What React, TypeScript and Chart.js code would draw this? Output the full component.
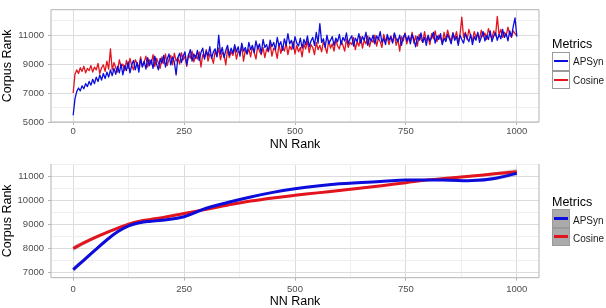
import React, { useEffect, useRef } from "react";
import { Chart, registerables } from "chart.js";

Chart.register(...registerables);

// ---------- data ----------
const seriesNames = ["APSyn", "Cosine"];
const legendTitle = "Metrics";
const xTitle = "NN Rank";
const yTitle = "Corpus Rank";

// raw series sampled every 4 NN ranks (0..1000)
const RAW_RANK_STEP = 4;
const apsynRaw = [
  5470, 6600, 7100, 7350, 7150, 7500, 7300, 7650, 7450, 7800,
  7550, 7950, 7650, 8100, 7800, 8250, 7900, 8350, 8000, 8450,
  8100, 8600, 8200, 8700, 8300, 8850, 8400, 9000, 8250, 8900,
  8550, 9150, 8400, 8950, 9250, 8600, 9100, 8450, 9350, 8800,
  9200, 8650, 9450, 8900, 9300, 8700, 9550, 9000, 8600, 9400,
  9050, 9600, 8800, 9350, 9700, 8950, 9500, 9150, 8250, 9450,
  9750, 9100, 9550, 9850, 8950, 9600, 10000, 9200, 9700, 9400,
  9950, 9250, 9800, 10100, 9350, 9900, 9550, 10200, 9400, 9850,
  10050, 9500, 11000, 9700, 10150, 9450, 9950, 10300, 9600, 10100,
  9750, 10350, 9850, 10200, 9550, 10450, 9900, 10150, 9700, 10500,
  10000, 10300, 9800, 10600, 10050, 10400, 9750, 10700, 10150, 10350,
  9900, 10650, 10200, 10500, 10000, 10850, 10250, 10550, 9950, 10750,
  10300, 11100, 10400, 10650, 10050, 10900, 10450, 10250, 10800, 10100,
  10700, 10350, 10950, 10200, 10600, 10850, 10300, 11200, 10450, 11800,
  10500, 10750, 10150, 11000, 10400, 10650, 10900, 10300, 10800, 10550,
  11050, 10350, 10850, 10600, 11150, 10400, 10750, 10950, 10250, 10800,
  10550, 11100, 10450, 10900, 10650, 11200, 10300, 10850, 10600, 11000,
  10400, 10950, 10700, 11250, 10500, 10800, 10350, 11050, 10650, 10900,
  10450, 11150, 10750, 10550, 11000, 10300, 10850, 11100, 10600, 10950,
  10400, 11050, 10700, 10200, 10900, 10650, 11150, 10500, 10850, 10300,
  11000, 10600, 10850, 11200, 10450, 10950, 10700, 11100, 10350, 10800,
  10550, 11050, 10750, 10400, 11150, 10650, 10900, 10300, 11000, 10700,
  10450, 11100, 10800, 10550, 11050, 10350, 10900, 10650, 11200, 10500,
  10850, 11250, 10600, 11000, 10700, 11300, 10550, 10950, 11150, 10650,
  11050, 10750, 11400, 10850, 11100, 10600, 11300, 10900, 11600, 12200,
  10900,
];
const cosineRaw = [
  7000, 8300, 8600, 8350, 8750, 8500, 8850, 8400, 8700, 8550,
  8900, 8450, 8800, 8600, 9050, 8350, 8750, 8950, 8500, 9200,
  8650, 10050, 8600, 9100, 8750, 8450, 9300, 8800, 9000, 8550,
  9250, 8700, 9400, 8900, 8600, 9300, 9050, 8750, 9500, 8850,
  9150, 9550, 8800, 9300, 9000, 9650, 8850, 9400, 9100, 8700,
  9500, 9050, 9700, 8900, 9350, 9600, 8950, 9750, 9200, 9450,
  9000, 9800, 9300, 9550, 8850, 9700, 9400, 9900, 9150, 9600,
  9350, 9850, 8800, 9650, 9450, 10000, 9200, 9700, 9500, 9050,
  9900, 9550, 10100, 9300, 9800, 9650, 8950, 10050, 9450, 9850,
  9600, 10150, 9350, 9900, 9750, 10250, 9200, 9950, 9700, 10050,
  9500, 10200, 9800, 9350, 10300, 9900, 9650, 10150, 9450, 10050,
  9850, 10350, 9550, 10100, 9950, 9400, 10400, 9750, 10200, 9900,
  10450, 9650, 10250, 10000, 10550, 9700, 10300, 9850, 10150, 9500,
  10400, 10050, 10600, 9800, 10350, 10150, 9650, 10500, 10000, 10300,
  9850, 10550, 10200, 9750, 10650, 10100, 10400, 9900, 10700, 10250,
  10050, 10600, 10300, 9900, 10750, 10150, 10500, 10350, 10850, 10000,
  10550, 10250, 10900, 10100, 10650, 10400, 10950, 10200, 10700, 10500,
  11000, 10250, 10800, 10550, 10150, 11050, 10600, 10850, 10350, 10950,
  10500, 11100, 10300, 10750, 9900, 10900, 10600, 11150, 10400, 10850,
  10650, 11200, 10450, 10950, 10250, 11050, 10700, 10500, 11250, 10600,
  10900, 10350, 11100, 10750, 11300, 10550, 11000, 10800, 10450, 11200,
  10650, 11350, 10900, 10600, 11150, 10750, 11250, 10500, 11050, 12250,
  10850, 11200, 10700, 11400, 10950, 10600, 11250, 10850, 11100, 10750,
  11350, 10900, 11150, 10700, 11450, 11000, 10800, 11300, 10950, 12300,
  11000, 11400, 10850, 11200, 10950, 11550, 11050, 10850, 11300, 11100,
  11000,
];

// smoothed (loess) curves with their standard-error half widths
const smoothRanks = [0, 25, 50, 75, 100, 125, 150, 175, 200, 250, 300, 350, 400, 450, 500, 550, 600, 650, 700, 750, 800, 850, 900, 950, 1000];
const apsynSmooth = [7110, 7520, 7930, 8330, 8680, 8930, 9060, 9120, 9160, 9310, 9660, 9910, 10130, 10320, 10470, 10590, 10680, 10730, 10780, 10830, 10840, 10825, 10810, 10900, 11110];
const cosineSmooth = [7990, 8230, 8450, 8650, 8830, 9000, 9120, 9195, 9270, 9445, 9620, 9800, 9960, 10090, 10200, 10300, 10400, 10500, 10610, 10725, 10840, 10920, 11000, 11090, 11180];
const apsynSe = [130, 95, 75, 60, 55, 50, 45, 45, 45, 40, 40, 40, 40, 40, 40, 40, 40, 40, 40, 40, 45, 45, 50, 70, 120];
const cosineSe = [120, 90, 70, 60, 55, 50, 45, 45, 45, 40, 40, 40, 40, 40, 40, 40, 40, 40, 40, 40, 45, 45, 50, 70, 120];

const xMajor = [0, 250, 500, 750, 1000];
const xMinor = [125, 375, 625, 875];
const yMajorTop = [5000, 7000, 9000, 11000];
const yMinorTop = [6000, 8000, 10000, 12000];
const yMajorBottom = [7000, 8000, 9000, 10000, 11000];
const yMinorBottom = [7500, 8500, 9500, 10500, 11500];

// ---------- style ----------
const BLUE = "#0c0cdc";
const RED = "#e2141e";
const FONT = "'Liberation Sans', Arial, Helvetica, sans-serif";
const GRID_MAJOR = "#dcdcdc";
const GRID_MINOR = "#efefef";
const BORDER = "#b3b3b3";
const TICK_TEXT = "#4d4d4d";

type PanelOpts = {
  ymin: number;
  ymax: number;
  yMajor: number[];
  yMinor: number[];
  xAxisHeight: number;
  xTickPad: number;
  xTitlePad: number;
  padTop: number;
  borderTop: boolean;
};

function makeOptions(o: PanelOpts): any {
  const xTicks = [...xMajor, ...xMinor].sort((a, b) => a - b);
  const yTicks = [...o.yMajor, ...o.yMinor].sort((a, b) => a - b);
  const xMaj = new Set(xMajor);
  const yMaj = new Set(o.yMajor);
  return {
    responsive: false,
    animation: false,
    events: [],
    layout: { padding: { top: o.padTop, right: 67, bottom: 0, left: 0 } },
    plugins: {
      legend: { display: false },
      tooltip: { enabled: false },
      filler: { drawTime: "beforeDatasetsDraw" },
      panelBorder: { top: o.borderTop },
    },
    scales: {
      x: {
        type: "linear",
        min: -50,
        max: 1050,
        afterBuildTicks: (s: any) => {
          s.ticks = xTicks.map((v) => ({ value: v }));
        },
        afterFit: (s: any) => {
          s.height = o.xAxisHeight;
        },
        ticks: {
          autoSkip: false,
          maxRotation: 0,
          minRotation: 0,
          padding: o.xTickPad,
          color: TICK_TEXT,
          font: { family: FONT, size: 9.5 },
          callback: (v: number) => (xMaj.has(v) ? String(v) : ""),
        },
        grid: {
          color: (c: any) => (c.tick && xMaj.has(c.tick.value) ? GRID_MAJOR : GRID_MINOR),
          lineWidth: 1,
          drawTicks: true,
          tickLength: 3,
          tickColor: (c: any) => (c.tick && xMaj.has(c.tick.value) ? BORDER : "rgba(0,0,0,0)"),
        },
        border: { display: false },
        title: {
          display: true,
          text: xTitle,
          color: "#000",
          font: { family: FONT, size: 12.5, lineHeight: 1 },
          padding: { top: 0, bottom: o.xTitlePad },
        },
      },
      y: {
        type: "linear",
        min: o.ymin,
        max: o.ymax,
        afterBuildTicks: (s: any) => {
          s.ticks = yTicks.map((v) => ({ value: v }));
        },
        afterFit: (s: any) => {
          s.width = 51;
        },
        ticks: {
          autoSkip: false,
          padding: 4,
          color: TICK_TEXT,
          font: { family: FONT, size: 9.5 },
          callback: (v: number) => (yMaj.has(v) ? String(v) : ""),
        },
        grid: {
          color: (c: any) => (c.tick && yMaj.has(c.tick.value) ? GRID_MAJOR : GRID_MINOR),
          lineWidth: 1,
          drawTicks: true,
          tickLength: 3,
          tickColor: (c: any) => (c.tick && yMaj.has(c.tick.value) ? BORDER : "rgba(0,0,0,0)"),
        },
        border: { display: false },
        title: {
          display: true,
          text: yTitle,
          color: "#000",
          font: { family: FONT, size: 12.5, lineHeight: 1 },
          padding: { top: 1.75, bottom: 0 },
        },
      },
    },
  };
}

const panelBorderPlugin = {
  id: "panelBorder",
  afterDatasetsDraw(chart: any, _args: any, opts: any) {
    const { ctx, chartArea } = chart;
    const { left, right, top, bottom } = chartArea;
    ctx.save();
    ctx.strokeStyle = BORDER;
    ctx.lineWidth = 1;
    ctx.beginPath();
    ctx.moveTo(left, top);
    ctx.lineTo(left, bottom);
    ctx.lineTo(right, bottom);
    ctx.lineTo(right, top);
    if (opts && opts.top) ctx.lineTo(left, top);
    ctx.stroke();
    ctx.restore();
  },
};

function rawPoints(vals: number[]) {
  return vals.map((v, i) => ({ x: i * RAW_RANK_STEP, y: v }));
}
function smoothPoints(vals: number[], se: number[], sign: number) {
  return smoothRanks.map((r, i) => ({ x: r, y: vals[i] + sign * se[i] }));
}

function TopChart() {
  const ref = useRef<HTMLCanvasElement>(null);
  useEffect(() => {
    const line = { borderWidth: 1.3, pointRadius: 0, tension: 0, fill: false, borderJoinStyle: "round" };
    const chart = new Chart(ref.current as HTMLCanvasElement, {
      type: "line",
      data: {
        datasets: [
          { ...line, label: seriesNames[0], data: rawPoints(apsynRaw), borderColor: BLUE },
          { ...line, label: seriesNames[1], data: rawPoints(cosineRaw), borderColor: RED },
        ],
      },
      options: makeOptions({
        ymin: 5000,
        ymax: 12760,
        yMajor: yMajorTop,
        yMinor: yMinorTop,
        xAxisHeight: 32,
        xTickPad: 0.5,
        xTitlePad: 2.75,
        padTop: 6,
        borderTop: true,
      }),
      plugins: [panelBorderPlugin],
    } as any);
    return () => chart.destroy();
  }, []);
  return <canvas ref={ref} width={606} height={154} style={{ display: "block", width: 606, height: 154 }} />;
}

function BottomChart() {
  const ref = useRef<HTMLCanvasElement>(null);
  useEffect(() => {
    const band = "rgba(153,153,153,0.4)";
    const common = { pointRadius: 0, tension: 0.4 };
    const chart = new Chart(ref.current as HTMLCanvasElement, {
      type: "line",
      data: {
        datasets: [
          { ...common, label: seriesNames[0], data: smoothPoints(apsynSmooth, apsynSe, 0), borderColor: BLUE, borderWidth: 3, fill: false },
          { ...common, label: seriesNames[1], data: smoothPoints(cosineSmooth, cosineSe, 0), borderColor: RED, borderWidth: 3, fill: false },
          { ...common, label: "apsyn-lo", data: smoothPoints(apsynSmooth, apsynSe, -1), borderWidth: 0, borderColor: "rgba(0,0,0,0)", fill: false },
          { ...common, label: "apsyn-hi", data: smoothPoints(apsynSmooth, apsynSe, 1), borderWidth: 0, borderColor: "rgba(0,0,0,0)", backgroundColor: band, fill: "-1" },
          { ...common, label: "cosine-lo", data: smoothPoints(cosineSmooth, cosineSe, -1), borderWidth: 0, borderColor: "rgba(0,0,0,0)", fill: false },
          { ...common, label: "cosine-hi", data: smoothPoints(cosineSmooth, cosineSe, 1), borderWidth: 0, borderColor: "rgba(0,0,0,0)", backgroundColor: band, fill: "-1" },
        ],
      },
      options: makeOptions({
        ymin: 6775,
        ymax: 11500,
        yMajor: yMajorBottom,
        yMinor: yMinorBottom,
        xAxisHeight: 30.3,
        xTickPad: 2.8,
        xTitlePad: 0,
        padTop: 10,
        borderTop: false,
      }),
      plugins: [panelBorderPlugin],
    } as any);
    return () => chart.destroy();
  }, []);
  return <canvas ref={ref} width={606} height={154} style={{ display: "block", width: 606, height: 154 }} />;
}

type LegendProps = { titleTop: number; boxTops: number[]; labelTops: number[]; keyFill: string; lineW: number };

function Legend({ titleTop, boxTops, labelTops, keyFill, lineW }: LegendProps) {
  const colors = [BLUE, RED];
  return (
    <>
      <div style={{ position: "absolute", left: 552, top: titleTop, fontFamily: FONT, fontSize: 12.5, lineHeight: "12.5px", color: "#000", whiteSpace: "nowrap" }}>
        {legendTitle}
      </div>
      {seriesNames.map((name, i) => (
        <React.Fragment key={name}>
          <div
            style={{
              position: "absolute",
              left: 552,
              top: boxTops[i],
              width: 18,
              height: 18.4,
              boxSizing: "border-box",
              border: "1px solid #9a9a9a",
              background: keyFill,
            }}
          >
            <div style={{ position: "absolute", left: 1, right: 1, top: (16.4 - lineW) / 2, height: lineW, background: colors[i] }} />
          </div>
          <div style={{ position: "absolute", left: 573, top: labelTops[i], fontFamily: FONT, fontSize: 10, lineHeight: "10px", color: "#1a1a1a", whiteSpace: "nowrap" }}>
            {name}
          </div>
        </React.Fragment>
      ))}
    </>
  );
}

export default function App() {
  return (
    <div style={{ position: "absolute", left: 0, top: 0, width: 606, height: 308, background: "#fff", overflow: "hidden" }}>
      <div style={{ position: "absolute", left: 0, top: 0 }}>
        <TopChart />
      </div>
      <div style={{ position: "absolute", left: 0, top: 154 }}>
        <BottomChart />
      </div>
      <Legend titleTop={38.4} boxTops={[52.3, 70.7]} labelTops={[56.5, 75.5]} keyFill="#ffffff" lineW={2} />
      <Legend titleTop={196.1} boxTops={[209.3, 227.7]} labelTops={[215.5, 233.5]} keyFill="#ababab" lineW={3} />
    </div>
  );
}
